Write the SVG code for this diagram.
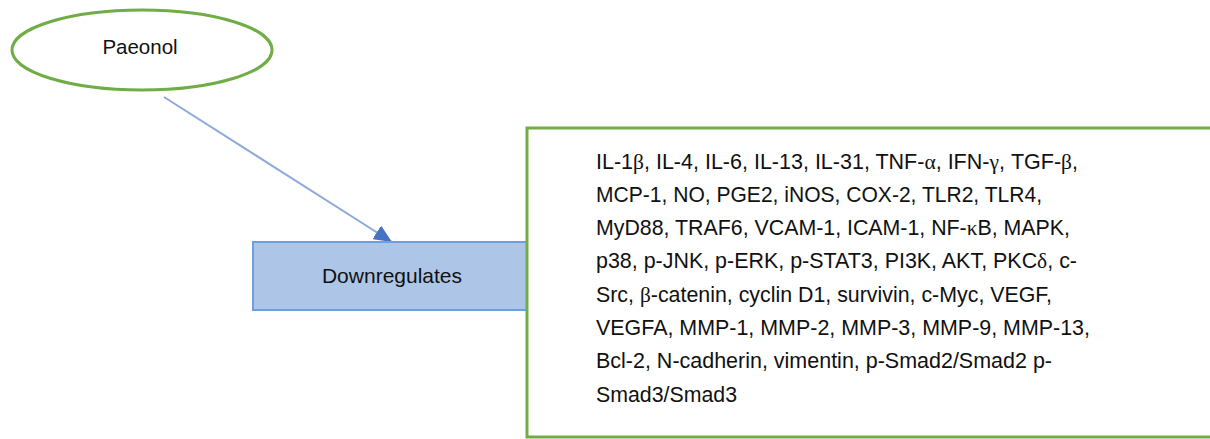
<svg xmlns="http://www.w3.org/2000/svg" width="1210" height="439" viewBox="0 0 1210 439">
<style>
.t{font-family:"Liberation Sans",Arial,sans-serif;fill:#111;}
.g{font-family:"Liberation Serif","Times New Roman",serif;}
.lst{font-size:21.2px;}
</style>
<defs>
<marker id="ah" viewBox="0 0 18 16" refX="18" refY="8" markerWidth="18" markerHeight="16" markerUnits="userSpaceOnUse" orient="auto">
<path d="M0,0 L18,8 L0,16 Z" fill="#4472C4"/>
</marker>
</defs>
<rect width="1210" height="439" fill="#fff"/>
<g id="connectors">
<line x1="164" y1="97" x2="392" y2="242" stroke="#8EAADB" stroke-width="2" marker-end="url(#ah)"/>
</g>
<g id="node-paeonol">
<ellipse cx="142" cy="50" rx="130" ry="40" fill="#fff" stroke="#70AD47" stroke-width="3"/>
<text class="t" x="140" y="54" font-size="20.5" text-anchor="middle">Paeonol</text>
</g>
<g id="node-downregulates">
<rect x="253" y="242" width="290" height="68" fill="#ADC6E7" stroke="#6F9FDD" stroke-width="2"/>
<text class="t" x="392" y="283" font-size="21" text-anchor="middle">Downregulates</text>
</g>
<g id="node-targets">
<rect x="527" y="128" width="700" height="309" fill="#fff" stroke="#70AD47" stroke-width="3"/>
<text class="t lst" x="596" y="168.5" textLength="482" lengthAdjust="spacingAndGlyphs">IL-1<tspan class="g">β</tspan>, IL-4, IL-6, IL-13, IL-31, TNF-<tspan class="g">α</tspan>, IFN-<tspan class="g">γ</tspan>, TGF-<tspan class="g">β</tspan>,</text>
<text class="t lst" x="596" y="201.8" textLength="446" lengthAdjust="spacingAndGlyphs">MCP-1, NO, PGE2, iNOS, COX-2, TLR2, TLR4,</text>
<text class="t lst" x="596" y="235.1" textLength="474" lengthAdjust="spacingAndGlyphs">MyD88, TRAF6, VCAM-1, ICAM-1, NF-<tspan class="g">κ</tspan>B, MAPK,</text>
<text class="t lst" x="596" y="268.4" textLength="481" lengthAdjust="spacingAndGlyphs">p38, p-JNK, p-ERK, p-STAT3, PI3K, AKT, PKC<tspan class="g">δ</tspan>, c-</text>
<text class="t lst" x="596" y="301.7" textLength="456" lengthAdjust="spacingAndGlyphs">Src, <tspan class="g">β</tspan>-catenin, cyclin D1, survivin, c-Myc, VEGF,</text>
<text class="t lst" x="596" y="335" textLength="494" lengthAdjust="spacingAndGlyphs">VEGFA, MMP-1, MMP-2, MMP-3, MMP-9, MMP-13,</text>
<text class="t lst" x="596" y="368.3" textLength="456" lengthAdjust="spacingAndGlyphs">Bcl-2, N-cadherin, vimentin, p-Smad2/Smad2 p-</text>
<text class="t lst" x="596" y="401.6" textLength="141" lengthAdjust="spacingAndGlyphs">Smad3/Smad3</text>
</g>
</svg>
